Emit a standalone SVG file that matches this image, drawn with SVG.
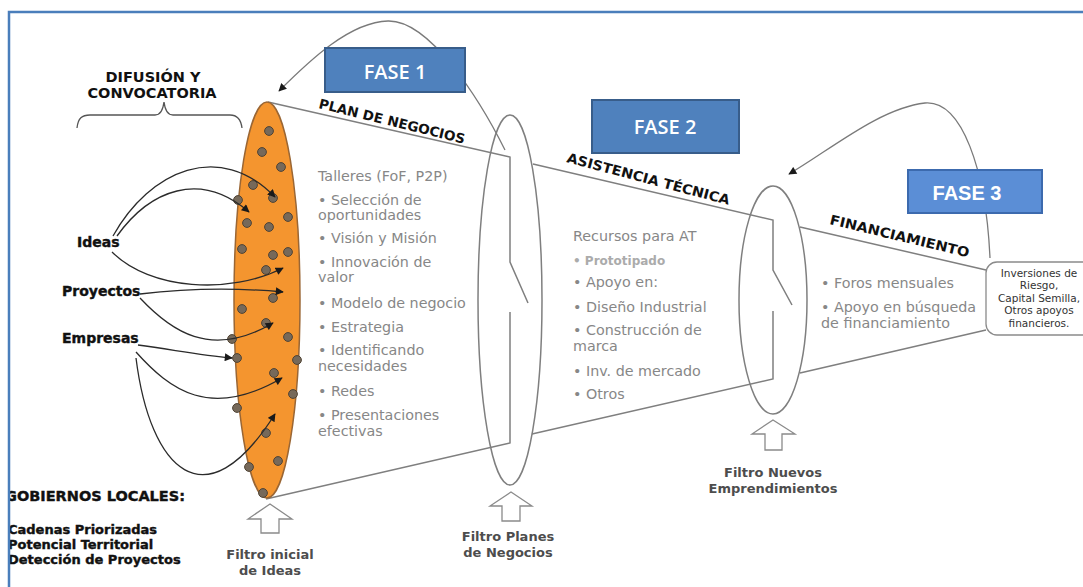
<svg xmlns="http://www.w3.org/2000/svg" width="1083" height="587" viewBox="0 0 1083 587">
<defs>
<style>
.funnel{fill:none;stroke:#7f7f7f;stroke-width:1.5}
.conn{fill:none;stroke:#2b2b2b;stroke-width:1.3}
.arc{fill:none;stroke:#7a7a7a;stroke-width:1.3}
.dot{fill:#76695a;stroke:#4f4334;stroke-width:1}
.body{font-family:"DejaVu Sans",Verdana,sans-serif;font-size:14.3px;fill:#878787}
.lab{font-family:"DejaVu Sans",Verdana,sans-serif;font-weight:bold;font-size:14px;fill:#111}
.heavy{stroke:#111;stroke-width:0.4}
.filt{font-family:"DejaVu Sans",Verdana,sans-serif;font-weight:bold;font-size:13px;fill:#4d4d4d;text-anchor:middle}
.stage{font-family:"DejaVu Sans",Verdana,sans-serif;font-weight:bold;font-size:13.5px;fill:#111}
.fase{font-family:"Open Sans","DejaVu Sans",sans-serif;font-weight:600;font-size:20px;fill:#fff;text-anchor:middle}
.hollow{fill:#fff;stroke:#8a8a8a;stroke-width:1.3}
</style>
<marker id="ah" viewBox="0 0 10 10" refX="9" refY="5" markerWidth="9" markerHeight="8" markerUnits="userSpaceOnUse" orient="auto"><path d="M0,0 L10,5 L0,10 z" fill="#1a1a1a"/></marker>
</defs>
<rect width="1083" height="587" fill="#fff"/>

<!-- funnel outline -->
<g id="funnel">
<path class="funnel" d="M268,102 L510,157 L510,262 L528,303 M510,312 L510,443 L266,499"/>
<path class="funnel" d="M533,164 L773,220 L773,270 L792,305 M773,311 L773,379 L532,434"/>
<path class="funnel" d="M800,227 L986,270 M800,373 L986,330"/>
<ellipse class="funnel" cx="510" cy="300" rx="32" ry="185"/>
<ellipse class="funnel" cx="773" cy="300" rx="34" ry="114"/>
</g>

<!-- curved feedback arcs -->
<g id="arcs">
<path class="arc" d="M505,150 C480,100 430,20 388,21 C350,22 310,60 279,91" marker-end="url(#ah)"/>
<path class="arc" d="M990,258 C986,170 962,100 925,103 C880,108 830,150 789,174" marker-end="url(#ah)"/>
</g>

<!-- orange ellipse with dots -->
<g id="ideas-pool">
<ellipse cx="267" cy="300" rx="33" ry="198" fill="#f4952f" stroke="#9a6634" stroke-width="1.5"/>
<g>
<circle class="dot" cx="269" cy="131" r="4.4"/>
<circle class="dot" cx="262" cy="152" r="4.4"/>
<circle class="dot" cx="281" cy="167" r="4.4"/>
<circle class="dot" cx="253" cy="185" r="4.4"/>
<circle class="dot" cx="273" cy="198" r="4.4"/>
<circle class="dot" cx="238" cy="200" r="4.4"/>
<circle class="dot" cx="288" cy="217" r="4.4"/>
<circle class="dot" cx="247" cy="223" r="4.4"/>
<circle class="dot" cx="269" cy="227" r="4.4"/>
<circle class="dot" cx="242" cy="249" r="4.4"/>
<circle class="dot" cx="273" cy="255" r="4.4"/>
<circle class="dot" cx="288" cy="252" r="4.4"/>
<circle class="dot" cx="266" cy="270" r="4.4"/>
<circle class="dot" cx="273" cy="298" r="4.4"/>
<circle class="dot" cx="242" cy="309" r="4.4"/>
<circle class="dot" cx="266" cy="323" r="4.4"/>
<circle class="dot" cx="288" cy="337" r="4.4"/>
<circle class="dot" cx="232" cy="339" r="4.4"/>
<circle class="dot" cx="237" cy="358" r="4.4"/>
<circle class="dot" cx="297" cy="360" r="4.4"/>
<circle class="dot" cx="274" cy="373" r="4.4"/>
<circle class="dot" cx="293" cy="394" r="4.4"/>
<circle class="dot" cx="237" cy="408" r="4.4"/>
<circle class="dot" cx="266" cy="433" r="4.4"/>
<circle class="dot" cx="278" cy="461" r="4.4"/>
<circle class="dot" cx="249" cy="467" r="4.4"/>
<circle class="dot" cx="263" cy="493" r="4.4"/>
</g>
</g>

<!-- connectors from sources -->
<g id="connectors">
<path class="conn" d="M113,236 C150,170 220,140 275,197" marker-end="url(#ah)"/>
<path class="conn" d="M117,236 C150,190 200,170 249,212" marker-end="url(#ah)"/>
<path class="conn" d="M112,252 C150,290 230,295 283,268" marker-end="url(#ah)"/>
<path class="conn" d="M140,294 C190,288 240,288 283,292" marker-end="url(#ah)"/>
<path class="conn" d="M140,298 C170,330 210,360 273,323" marker-end="url(#ah)"/>
<path class="conn" d="M138,345 C175,350 200,355 232,358" marker-end="url(#ah)"/>
<path class="conn" d="M136,352 C170,390 210,420 282,378" marker-end="url(#ah)"/>
<path class="conn" d="M136,358 C150,470 205,525 275,414" marker-end="url(#ah)"/>
</g>

<!-- brace + heading -->
<g id="difusion">
<path d="M77,128 C78,118 82,115 90,115 L155,115 C160,115 163,110 164,102 C165,110 168,115 173,115 L230,115 C237,115 241,120 242,128" fill="none" stroke="#555" stroke-width="1.3"/>
<text class="lab" x="153" y="82" text-anchor="middle" style="font-size:14.5px">DIFUSIÓN Y</text>
<text class="lab" x="152" y="98" text-anchor="middle" style="font-size:14.5px">CONVOCATORIA</text>
</g>

<g id="src-ideas"><text class="lab heavy" x="77" y="247">Ideas</text></g>
<g id="src-proyectos"><text class="lab heavy" x="62" y="296">Proyectos</text></g>
<g id="src-empresas"><text class="lab heavy" x="62" y="343">Empresas</text></g>

<g id="gobiernos">
<text class="lab heavy" x="5" y="501" style="font-size:14.5px">GOBIERNOS LOCALES:</text>
<text class="lab heavy" x="8" y="534" style="font-size:13px">Cadenas Priorizadas</text>
<text class="lab heavy" x="8" y="549" style="font-size:13px">Potencial Territorial</text>
<text class="lab heavy" x="8" y="564" style="font-size:13px">Detección de Proyectos</text>
</g>

<!-- stage labels -->
<g id="stage-labels">
<text class="stage" transform="translate(318,108) rotate(13.8)" textLength="150" lengthAdjust="spacingAndGlyphs">PLAN DE NEGOCIOS</text>
<text class="stage" transform="translate(566,162) rotate(14.8)" textLength="168" lengthAdjust="spacingAndGlyphs">ASISTENCIA TÉCNICA</text>
<text class="stage" transform="translate(829,224) rotate(13.5)" textLength="143" lengthAdjust="spacingAndGlyphs">FINANCIAMIENTO</text>
</g>

<!-- phase 1 content -->
<g id="fase1-content">
<text class="body" x="318" y="181">Talleres (FoF, P2P)</text>
<text class="body" x="318" y="205">• Selección de</text>
<text class="body" x="318" y="220">oportunidades</text>
<text class="body" x="318" y="243">• Visión y Misión</text>
<text class="body" x="318" y="267">• Innovación de</text>
<text class="body" x="318" y="282">valor</text>
<text class="body" x="318" y="308">• Modelo de negocio</text>
<text class="body" x="318" y="332">• Estrategia</text>
<text class="body" x="318" y="355">• Identificando</text>
<text class="body" x="318" y="371">necesidades</text>
<text class="body" x="318" y="396">• Redes</text>
<text class="body" x="318" y="420">• Presentaciones</text>
<text class="body" x="318" y="436">efectivas</text>
</g>

<!-- phase 2 content -->
<g id="fase2-content">
<text class="body" x="573" y="241">Recursos para AT</text>
<text class="body" x="573" y="265" style="font-size:12px;font-weight:bold;fill:#ababab">• Prototipado</text>
<text class="body" x="573" y="287">• Apoyo en:</text>
<text class="body" x="573" y="312">• Diseño Industrial</text>
<text class="body" x="573" y="335">• Construcción de</text>
<text class="body" x="573" y="351">marca</text>
<text class="body" x="573" y="376">• Inv. de mercado</text>
<text class="body" x="573" y="399">• Otros</text>
</g>

<!-- phase 3 content -->
<g id="fase3-content">
<text class="body" x="821" y="288">• Foros mensuales</text>
<text class="body" x="821" y="312">• Apoyo en búsqueda</text>
<text class="body" x="821" y="328">de financiamiento</text>
</g>

<!-- outcome box -->
<g id="inversiones">
<rect x="986" y="262" width="112" height="73" rx="11" fill="#fff" stroke="#8a8a8a" stroke-width="1.3"/>
<g font-family="'DejaVu Sans',Verdana,sans-serif" font-size="10.5" fill="#333" text-anchor="middle">
<text x="1039" y="277">Inversiones de</text>
<text x="1039" y="289">Riesgo,</text>
<text x="1039" y="302">Capital Semilla,</text>
<text x="1039" y="314">Otros apoyos</text>
<text x="1039" y="327">financieros.</text>
</g>
</g>

<!-- filters -->
<g id="filtro1">
<path class="hollow" d="M270,504 L292,519 L279,519 L279,533 L261,533 L261,519 L248,519 Z"/>
<text class="filt" x="270" y="559">Filtro inicial</text>
<text class="filt" x="270" y="575">de Ideas</text>
</g>
<g id="filtro2">
<path class="hollow" d="M511,492 L532,506 L520,506 L520,521 L502,521 L502,506 L490,506 Z"/>
<text class="filt" x="508" y="541">Filtro Planes</text>
<text class="filt" x="508" y="557">de Negocios</text>
</g>
<g id="filtro3">
<path class="hollow" d="M773,420 L795,434 L782,434 L782,450 L765,450 L765,434 L752,434 Z"/>
<text class="filt" x="773" y="477">Filtro Nuevos</text>
<text class="filt" x="773" y="493">Emprendimientos</text>
</g>

<!-- phase boxes -->
<g id="fase1">
<rect x="325" y="48" width="140" height="44" fill="#4f81bd" stroke="#385d8a" stroke-width="2"/>
<text class="fase" x="395" y="79">FASE 1</text>
</g>
<g id="fase2">
<rect x="592" y="100" width="147" height="53" fill="#4f81bd" stroke="#385d8a" stroke-width="2"/>
<text class="fase" x="665" y="134">FASE 2</text>
</g>
<g id="fase3">
<rect x="908" y="170" width="134" height="43" fill="#5b8ed6" stroke="#3c6aae" stroke-width="2"/>
<text x="967" y="200" font-family="'Liberation Sans',Arial,sans-serif" font-weight="bold" font-size="20" fill="#fff" text-anchor="middle">FASE 3</text>
</g>

<!-- page frame -->
<g id="frame">
<rect x="0" y="0" width="8" height="587" fill="#fff"/>
<path d="M9,587 L9,12 L1083,12" fill="none" stroke="#4a7ebb" stroke-width="2.5"/>
</g>
</svg>
